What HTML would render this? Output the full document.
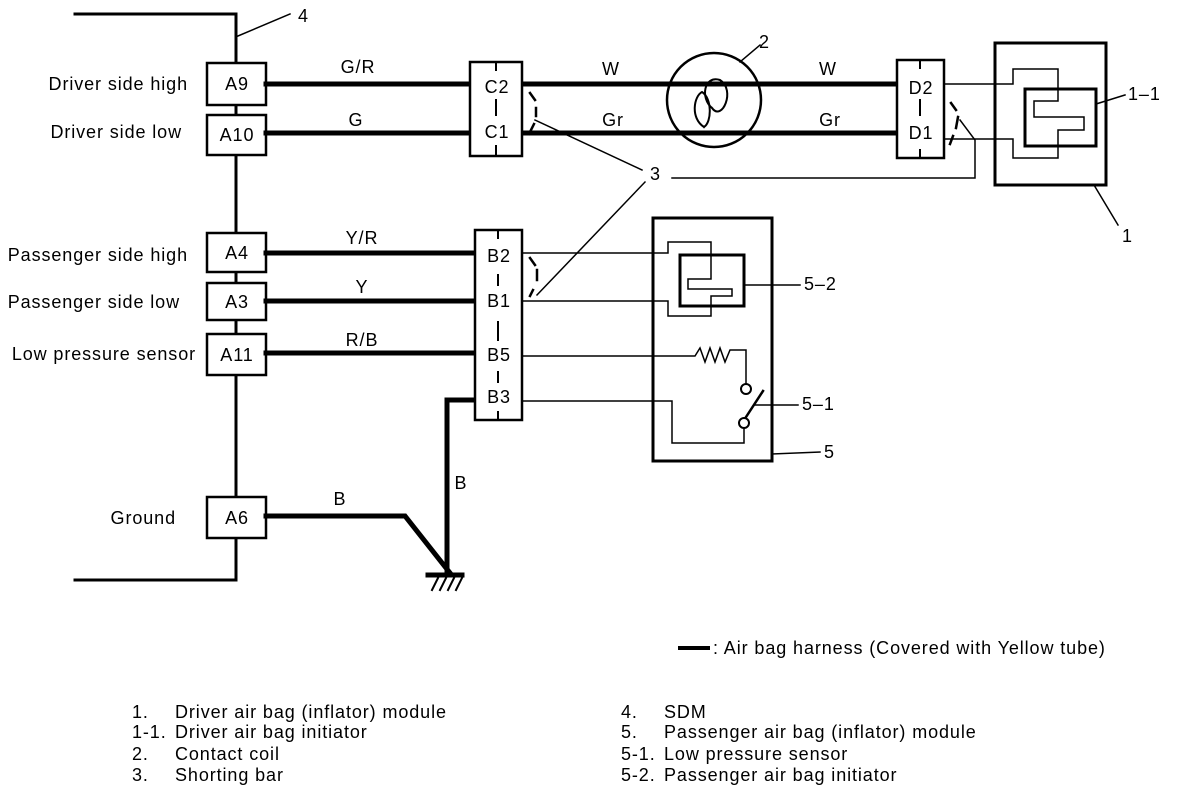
<!DOCTYPE html>
<html><head><style>
body{margin:0;background:#fff}
svg{display:block}
text{font-family:"Liberation Sans",sans-serif;font-size:18px;letter-spacing:0.9px;fill:#000}
</style></head><body>
<svg width="1184" height="790" viewBox="0 0 1184 790" xmlns="http://www.w3.org/2000/svg">
<g stroke="#000" fill="none" stroke-linecap="square">
<path d="M75 14 H236 V580 H75" stroke-width="3"/>
<path d="M238 36 L290 14" stroke-width="1.5"/>
<g stroke-width="2.5" fill="#fff">
<rect x="207" y="63" width="59" height="42"/>
<rect x="207" y="115" width="59" height="40"/>
<rect x="207" y="233" width="59" height="39"/>
<rect x="207" y="283" width="59" height="37"/>
<rect x="207" y="334" width="59" height="41"/>
<rect x="207" y="497" width="59" height="41"/>
</g>
<g stroke-width="5">
<path d="M266 84 H472"/><path d="M266 133 H472"/>
<path d="M522 84 H898"/><path d="M522 133 H898"/>
<path d="M266 253 H477"/><path d="M266 301 H477"/><path d="M266 353 H477"/>
<path d="M266 516 H405 L450 573"/>
<path d="M477 400 H447 V575"/>
<path d="M428 575 H462"/>
</g>
<g stroke-width="2"><path d="M432 590 L438 578 M440 590 L446 578 M448 590 L454 578 M456 590 L462 578"/></g>
<rect x="470" y="62" width="52" height="94" stroke-width="2.5" fill="#fff"/>
<path d="M496 62 V70 M496 100 V115 M496 146 V156" stroke-width="2"/>
<path d="M530 93 L535 100 M536 108 L536 116 M534 124 L529 134" stroke-width="2.5"/>
<path d="M535 120 L642 170" stroke-width="1.5"/>
<circle cx="714" cy="100" r="47" stroke-width="2.5" fill="none"/>
<path d="M712 108 C700 98 704 75 720 80 C736 90 722 122 712 108" stroke-width="2"/>
<path d="M704 127 C690 118 694 96 702 92 C712 98 712 122 704 127" stroke-width="2"/>
<path d="M740 62 L760 45" stroke-width="1.5"/>
<rect x="897" y="60" width="47" height="98" stroke-width="2.5" fill="#fff"/>
<path d="M920 60 V68 M920 100 V115 M920 150 V158" stroke-width="2"/>
<path d="M951 103 L956 110 M958 117 L956 128 M953 136 L950 144" stroke-width="2.5"/>
<path d="M944 84 H1013 V69 H1058 V101 H1034 V117 H1084 V130 H1058 V158 H1013 V139 H944" stroke-width="1.5"/>
<path d="M960 120 L975 140 V178 H672" stroke-width="1.5"/>
<rect x="995" y="43" width="111" height="142" stroke-width="3"/>
<rect x="1025" y="89" width="71" height="57" stroke-width="3"/>
<path d="M1096 104 L1125 95" stroke-width="1.5"/>
<path d="M1094 185 L1118 225" stroke-width="1.5"/>
<path d="M645 182 L537 295" stroke-width="1.5"/>
<rect x="475" y="230" width="47" height="190" stroke-width="2.5" fill="#fff"/>
<path d="M498 230 V238 M498 275 V285 M498 322 V340 M498 372 V382 M498 412 V420" stroke-width="2"/>
<path d="M530 258 L535 265 M537 270 L537 280 M533 290 L530 296" stroke-width="2.5"/>
<rect x="653" y="218" width="119" height="243" stroke-width="3"/>
<path d="M522 253 H668 V242 H711 V279 H688 V289 H732 V296 H711 V316 H668 V301 H522" stroke-width="1.5"/>
<rect x="680" y="255" width="64" height="51" stroke-width="3"/>
<path d="M744 285 H800" stroke-width="1.5"/>
<path d="M522 356 H695 L700 348 L705 362 L710 348 L715 362 L720 348 L725 362 L730 350 H746 V383" stroke-width="1.5"/>
<circle cx="746" cy="389" r="5" stroke-width="2"/>
<circle cx="744" cy="423" r="5" stroke-width="2"/>
<path d="M746 417 L763 391" stroke-width="2.5"/>
<path d="M744 428 V443 H672 V401 H522" stroke-width="1.5"/>
<path d="M755 405 H798" stroke-width="1.5"/>
<path d="M772 454 L820 452" stroke-width="1.5"/>
<path d="M680 648 H708" stroke-width="4"/>
</g>
<text x="298" y="22">4</text>
<text x="188" y="90" text-anchor="end">Driver side high</text>
<text x="182" y="138" text-anchor="end">Driver side low</text>
<text x="188" y="261" text-anchor="end">Passenger side high</text>
<text x="180" y="308" text-anchor="end">Passenger side low</text>
<text x="196" y="360" text-anchor="end">Low pressure sensor</text>
<text x="176" y="524" text-anchor="end">Ground</text>
<g text-anchor="middle">
<text x="237" y="90">A9</text><text x="237" y="141">A10</text>
<text x="237" y="259">A4</text><text x="237" y="308">A3</text>
<text x="237" y="361">A11</text><text x="237" y="524">A6</text>
<text x="497" y="93">C2</text><text x="497" y="138">C1</text>
<text x="921" y="94">D2</text><text x="921" y="139">D1</text>
<text x="499" y="262">B2</text><text x="499" y="307">B1</text>
<text x="499" y="361">B5</text><text x="499" y="403">B3</text>
<text x="358" y="73">G/R</text><text x="356" y="126">G</text>
<text x="611" y="75">W</text><text x="613" y="126">Gr</text>
<text x="828" y="75">W</text><text x="830" y="126">Gr</text>
<text x="362" y="244">Y/R</text><text x="362" y="293">Y</text><text x="362" y="346">R/B</text>
<text x="340" y="505">B</text><text x="461" y="489">B</text>
</g>
<text x="759" y="48">2</text>
<text x="650" y="180">3</text>
<text x="1128" y="100">1–1</text>
<text x="1122" y="242">1</text>
<text x="804" y="290">5–2</text>
<text x="802" y="410">5–1</text>
<text x="824" y="458">5</text>
<text x="713" y="654">: Air bag harness (Covered with Yellow tube)</text>
<text x="132" y="718">1.</text><text x="175" y="718">Driver air bag (inflator) module</text>
<text x="132" y="738">1-1.</text><text x="175" y="738">Driver air bag initiator</text>
<text x="132" y="760">2.</text><text x="175" y="760">Contact coil</text>
<text x="132" y="781">3.</text><text x="175" y="781">Shorting bar</text>
<text x="621" y="718">4.</text><text x="664" y="718">SDM</text>
<text x="621" y="738">5.</text><text x="664" y="738">Passenger air bag (inflator) module</text>
<text x="621" y="760">5-1.</text><text x="664" y="760">Low pressure sensor</text>
<text x="621" y="781">5-2.</text><text x="664" y="781">Passenger air bag initiator</text>
</svg>
</body></html>
